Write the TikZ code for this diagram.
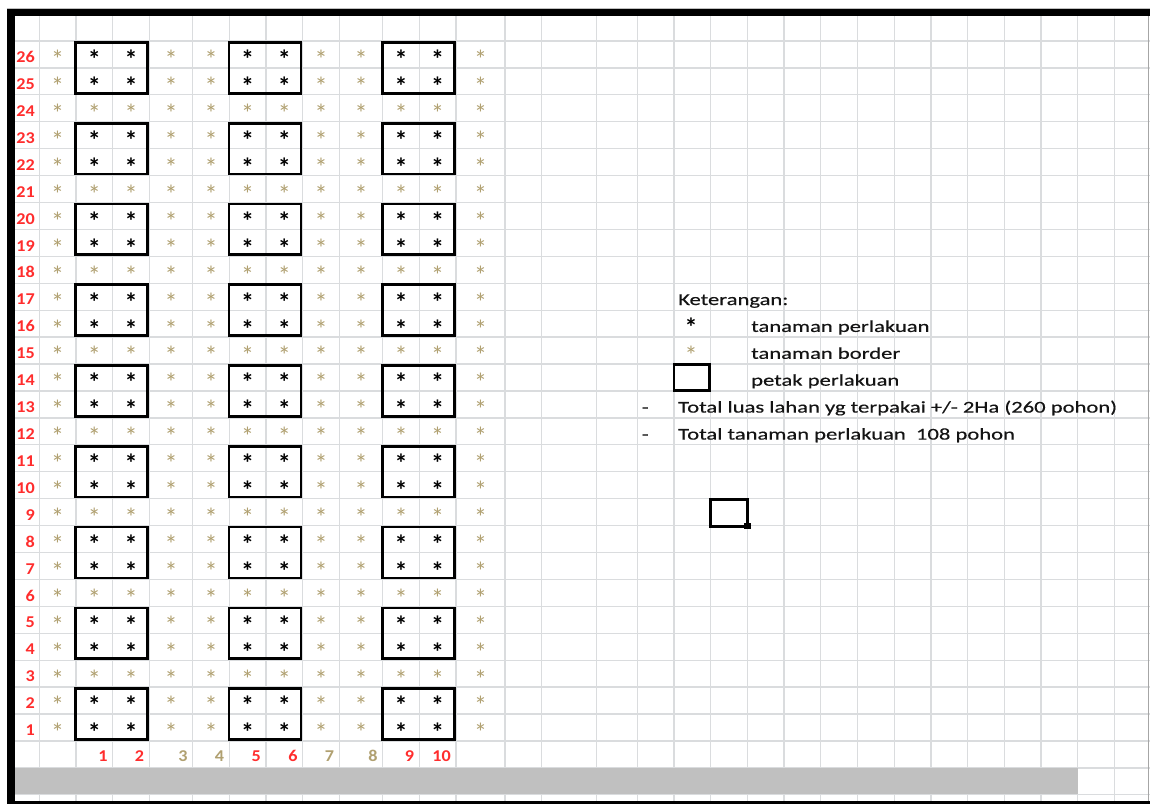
\documentclass[tikz,border=0pt]{standalone}
\usepackage{fontspec}
\setmainfont{Carlito}
\newfontfamily\labfont[FakeStretch=1.1]{Carlito}
\newfontfamily\legfont[FakeStretch=1.37,FakeBold=0.35]{Carlito}
\definecolor{gridc}{RGB}{218,220,222}
\definecolor{tanc}{RGB}{176,160,112}
\definecolor{redc}{RGB}{255,45,45}
\definecolor{barc}{RGB}{192,192,192}
\definecolor{txtc}{RGB}{20,20,20}
\begin{document}
\begin{tikzpicture}[x=1pt,y=-1pt,
  gridline/.style={draw=gridc, line width=1.3pt},
  petak/.style={draw=black, line width=2.6pt},
  treat/.style={inner sep=0pt, anchor=base, font=\fontsize{26}{26}\selectfont\bfseries, text=black},
  border/.style={inner sep=0pt, anchor=base, font=\fontsize{26}{26}\selectfont, text=tanc},
  rowlab/.style={inner sep=0pt, anchor=base east, font=\labfont\fontsize{16.5}{16.5}\selectfont\bfseries, text=redc},
  collab/.style={inner sep=0pt, anchor=base east, font=\labfont\fontsize{16.5}{16.5}\selectfont\bfseries},
  leg/.style={inner sep=0pt, anchor=base west, font=\legfont\fontsize{16.5}{17}\selectfont, text=txtc}
]
\useasboundingbox (0,0) rectangle (1150,804);
\fill[white] (0,0) rectangle (1150,804);
\def\C{{15,39.3,76,112.7,149.3,192.7,229.3,266,302.7,339.3,382.7,419.3,456,505,541.7,596.7,637.3,674,710.7,747.4,784.1,820.8,857.5,894.2,930.9,967.6,1004.3,1041,1077.7,1114.4}}
% grid
\foreach \i in {1,...,29} {
  \pgfmathsetmacro\xx{\C[\i]}
  \draw[gridline] (\xx,16) -- (\xx,800.7);
}
\foreach \k in {0,...,28} {
  \pgfmathsetmacro\yy{41+26.92*\k}
  \draw[gridline] (15,\yy) -- (1150,\yy);
}
% grey bar
\fill[barc] (14.3,767.8) rectangle (1077.7,794);
% plots
\foreach \j in {2,6,10} {
  \foreach \n in {26,23,...,2} {
    \pgfmathsetmacro\bl{\C[\j]-0.3}
    \pgfmathsetmacro\br{\C[\j+2]-1.8}
    \pgfmathsetmacro\bt{41+26.92*(26-\n)+1.5}
    \pgfmathsetmacro\bb{41+26.92*(28-\n)-1.6}
    \draw[petak] (\bl,\bt) rectangle (\br,\bb);
  }
}
% plants
\foreach \j in {1,...,12} {
  \pgfmathsetmacro\xa{\C[\j]}
  \pgfmathsetmacro\xb{\C[\j+1]}
  \pgfmathsetmacro\xc{0.5*\xa+0.5*\xb}
  \foreach \n in {1,...,26} {
    \pgfmathsetmacro\yc{41+26.92*(26-\n+0.5)+14.4}
    \pgfmathtruncatemacro\isT{(mod(\n,3)!=0) && (\j==2 || \j==3 || \j==6 || \j==7 || \j==10 || \j==11)}
    \ifnum\isT=1
      \node[treat] (s-\j-\n) at (\xc,\yc) {*};
    \else
      \node[border] (s-\j-\n) at (\xc,\yc) {*};
    \fi
  }
}
% row labels
\foreach \n in {1,...,26} {
  \pgfmathsetmacro\yb{41+26.92*(27-\n)-5.3}
  \node[rowlab] (r-\n) at (35,\yb) {\n};
}
% column labels
\foreach \m/\cl in {1/redc,2/redc,3/tanc,4/tanc,5/redc,6/redc,7/tanc,8/tanc,9/redc,10/redc} {
  \pgfmathsetmacro\xr{\C[\m+2]-5}
  \node[collab, text=\cl] (c-\m) at (\xr,761.3) {\m};
}
% legend
\node[leg] (ket) at (678,305) {Keterangan:};
\node[treat] (lgt) at (691,336.1) {*};
\node[border] (lgb) at (691,364.4) {*};
\node[leg] (lgt-t) at (751,331.9) {tanaman perlakuan};
\node[leg] (lgb-t) at (751,358.8) {tanaman border};
\draw[petak] (674,364.6) rectangle (709.7,390.4);
\node[leg] (lgp-t) at (751,385.7) {petak perlakuan};
\node[leg] (d1) at (641.5,412.6) {-};
\node[leg] (tot1) at (678,412.6) {Total luas lahan yg terpakai +/- 2Ha (260 pohon)};
\node[leg] (d2) at (641.5,439.6) {-};
\node[leg] (tot2) at (678,439.6) {Total tanaman perlakuan\ \ 108 pohon};
% selected cell
\draw[line width=3pt] (710.8,499.8) rectangle (747.8,526.8);
\fill[black] (743.5,522.8) rectangle (750.5,529.3);
% frame
\draw[gray!50, line width=0.6pt] (6.7,8.7) -- (1150,8.7);
\fill[black] (6.7,9.3) rectangle (1150,16);
\fill[black] (6.7,9.3) rectangle (14.5,804);
\fill[black] (14,800.7) rectangle (1150,803.6);
\draw[gray!70, line width=0.8pt] (1148.6,16) -- (1148.6,800.7);
\end{tikzpicture}
\end{document}
